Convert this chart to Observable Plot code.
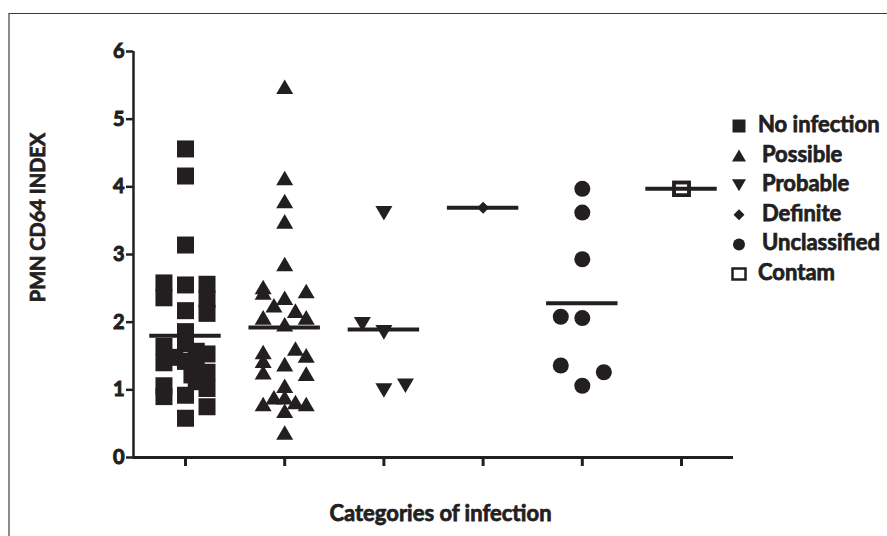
<!DOCTYPE html>
<html>
<head>
<meta charset="utf-8">
<script src="https://cdn.jsdelivr.net/npm/d3@7"></script>
<script src="https://cdn.jsdelivr.net/npm/@observablehq/plot@0.6"></script>
<style>
  html, body { margin: 0; padding: 0; background: #fff; }
  #wrap { position: relative; width: 887px; height: 536px; overflow: hidden; font-family: Lato, "Open Sans", sans-serif; font-weight: 700; color: #231f20; }
  #frame { position: absolute; left: 8px; top: 13px; right: -10px; bottom: -10px; border-top: 1px solid #3a3a3a; border-left: 2px solid #8c8c8c; }
  #wrap > svg { position: absolute; left: 0; top: 0; }
  #wrap svg text { font-family: Lato, "Open Sans", sans-serif; font-weight: 700; stroke: #231f20; stroke-width: 0.75px; paint-order: stroke; }
  #wrap svg g[aria-label="y-axis tick label"] { font-size: 20px !important; }
  #wrap svg g[aria-label="y-axis tick label"] text { font-size: 20px !important; stroke-width: 1px; }
</style>
</head>
<body>
<div id="wrap"><div id="frame"></div></div>
<script>
// ---------- data ----------
const categories = ["No infection", "Possible", "Probable", "Definite", "Unclassified", "Contam"];

const noInfectionValues = [4.56, 4.16, 3.14, 2.58, 2.36, 2.55, 2.17, 2.56, 2.34, 2.13, 1.86, 1.64, 1.40, 1.68, 1.48, 1.57, 1.53, 1.42, 1.36, 1.22, 1.26, 1.12, 1.02, 1.06, 0.90, 0.92, 0.75, 0.58];
const noInfectionLanes  = [0, 0, 0, -1, -1, 0, 0, 1, 1, 1, 0, -1, -1, 0, -0.5, 0.5, 1, 0, 0.5, 0.3, 1, 0.5, 1, -1, -1, 0, 1, 0];

const possibleValues = [5.48, 4.13, 3.79, 3.49, 2.86, 2.52, 2.44, 2.36, 2.46, 2.25, 2.17, 2.07, 2.07, 1.97, 1.56, 1.43, 1.26, 1.61, 1.51, 1.38, 1.24, 1.06, 0.89, 0.79, 0.89, 0.82, 0.79, 0.69, 0.37];
const possibleLanes  = [0, 0, 0, 0, 0, -1, -1, 0, 1, -0.5, 0.5, -1, 1, 0, -1, -1, -1, 0.5, 1, 0, 1, 0, -0.5, -1, 0, 0.5, 1, 0, 0];

const probableValues = [3.61, 1.97, 1.85, 0.99, 1.06];
const probableLanes  = [0, -1, 0, 0, 1];

const definiteValues = [3.69];
const definiteLanes  = [0];

const unclassifiedValues = [3.97, 3.62, 2.93, 2.08, 2.06, 1.36, 1.06, 1.26];
const unclassifiedLanes  = [0, 0, 0, -1, 0, -1, 0, 1];

const contamValues = [3.97];
const contamLanes  = [0];

// group lines (mean)
const groupMeans = [1.80, 1.92, 1.89, 3.69, 2.28, 3.97];

const yTicks = [0, 1, 2, 3, 4, 5, 6];
const yLabel = "PMN CD64 INDEX";
const xLabel = "Categories of infection";

// ---------- symbols ----------
const ink = "#231f20";
const rOf = size => Math.sqrt(size / Math.PI);
const symSquare = { draw(c, s) { const r = rOf(s); c.rect(-r, -r, 2 * r, 2 * r); } };
const symTriUp = { draw(c, s) { const r = rOf(s), h = 0.86 * r; c.moveTo(0, -h); c.lineTo(r, h); c.lineTo(-r, h); c.closePath(); } };
const symTriDown = { draw(c, s) { const r = rOf(s), h = 0.86 * r; c.moveTo(0, h); c.lineTo(r, -h); c.lineTo(-r, -h); c.closePath(); } };
const symDiamond = { draw(c, s) { const r = rOf(s); c.moveTo(0, -r); c.lineTo(r, 0); c.lineTo(0, r); c.lineTo(-r, 0); c.closePath(); } };
const symCircle = { draw(c, s) { const r = rOf(s); c.moveTo(r, 0); c.arc(0, 0, r, 0, 2 * Math.PI); } };
const symOpenSq = { draw(c, s) { const r = rOf(s); c.rect(-r, -0.85 * r, 2 * r, 1.7 * r); } };

const series = [
  { values: noInfectionValues, lanes: noInfectionLanes, symbol: symSquare, r: 8.5, fill: ink, stroke: "none", sw: 0 },
  { values: possibleValues, lanes: possibleLanes, symbol: symTriUp, r: 8.5, fill: ink, stroke: "none", sw: 0 },
  { values: probableValues, lanes: probableLanes, symbol: symTriDown, r: 8.5, fill: ink, stroke: "none", sw: 0 },
  { values: definiteValues, lanes: definiteLanes, symbol: symDiamond, r: 6, fill: ink, stroke: "none", sw: 0 },
  { values: unclassifiedValues, lanes: unclassifiedLanes, symbol: symCircle, r: 8, fill: ink, stroke: "none", sw: 0 },
  { values: contamValues, lanes: contamLanes, symbol: symOpenSq, r: 7.5, fill: "white", stroke: ink, sw: 3.5 }
];

const LANE = 0.217;
const XDOM = [-0.524, categories.length - 1 + 0.524];

const dotMarks = series.map((s, i) => {
  const rows = s.values.map((v, j) => ({ i, v, lane: s.lanes[j] }));
  return Plot.dot(rows, {
    x: d => d.i + d.lane * LANE, y: "v",
    symbol: s.symbol, r: s.r, fill: s.fill, stroke: s.stroke, strokeWidth: s.sw
  });
});

const meanRows = groupMeans.map((m, i) => ({ i, m }));
const contamRows = contamValues.map((v, j) => ({ i: 5, v, lane: contamLanes[j] }));

const plot = Plot.plot({
  width: 887, height: 536,
  marginLeft: 133, marginRight: 154, marginTop: 51, marginBottom: 79,
  x: { type: "linear", domain: XDOM, axis: null },
  y: { domain: [0, 6], axis: null },
  style: { fontFamily: "Lato, 'Open Sans', sans-serif", fontWeight: 700, fontSize: "20px", color: ink, background: "transparent", overflow: "visible" },
  marks: [
    Plot.axisY({ ticks: yTicks, tickSize: 7, tickPadding: 2, tickFormat: d => String(d), strokeWidth: 2.5, stroke: ink, fill: ink, fontSize: 20, fontWeight: 700, label: null }),
    Plot.axisX({ ticks: d3.range(categories.length), tickSize: 9, tickFormat: () => "", strokeWidth: 3, stroke: ink, label: null }),
    Plot.ruleY([0], { x1: XDOM[0], x2: XDOM[1], stroke: ink, strokeWidth: 3 }),
    Plot.ruleX([XDOM[0]], { y1: 0, y2: 6, stroke: ink, strokeWidth: 2.5 }),
    ...dotMarks,
    Plot.ruleY(meanRows, { y: "m", x1: d => d.i - 0.36, x2: d => d.i + 0.36, stroke: ink, strokeWidth: 4 }),
    Plot.dot(contamRows, { x: d => d.i + d.lane * LANE, y: "v", symbol: symOpenSq, r: 7.5, fill: "none", stroke: ink, strokeWidth: 3.5 }),
    Plot.text([yLabel], { text: d => d, frameAnchor: "left", textAnchor: "middle", lineAnchor: "middle", dx: -95, dy: -37, rotate: -90, fontSize: 20, fontWeight: 700, fill: ink }),
    Plot.text([xLabel], { text: d => d, frameAnchor: "bottom", textAnchor: "middle", lineAnchor: "middle", dx: 7, dy: 56, fontSize: 22, fontWeight: 700, fill: ink })
  ]
});
document.getElementById("wrap").appendChild(plot);

// ---------- legend (right side) ----------
const leg = d3.select("#wrap").append("svg")
  .attr("width", 887).attr("height", 536)
  .style("position", "absolute").style("left", 0).style("top", 0);
const legendSyms = [
  { symbol: symSquare, r: 6.5, fill: ink, stroke: "none", sw: 0 },
  { symbol: symTriUp, r: 7, fill: ink, stroke: "none", sw: 0 },
  { symbol: symTriDown, r: 7, fill: ink, stroke: "none", sw: 0 },
  { symbol: symDiamond, r: 5.5, fill: ink, stroke: "none", sw: 0 },
  { symbol: symCircle, r: 6, fill: ink, stroke: "none", sw: 0 },
  { symbol: symOpenSq, r: 6.5, fill: "none", stroke: ink, sw: 2.5 }
];
categories.forEach((name, k) => {
  const base = 132 + k * 29.6;
  const s = legendSyms[k];
  leg.append("path")
    .attr("d", d3.symbol(s.symbol, s.r * s.r * Math.PI)())
    .attr("transform", `translate(739,${base - 6})`)
    .attr("fill", s.fill).attr("stroke", s.stroke).attr("stroke-width", s.sw);
  leg.append("text")
    .attr("x", k === 0 || k === 5 ? 758 : 762).attr("y", base)
    .attr("fill", ink)
    .style("font-size", "22px")
    .text(name);
});
</script>
</body>
</html>
